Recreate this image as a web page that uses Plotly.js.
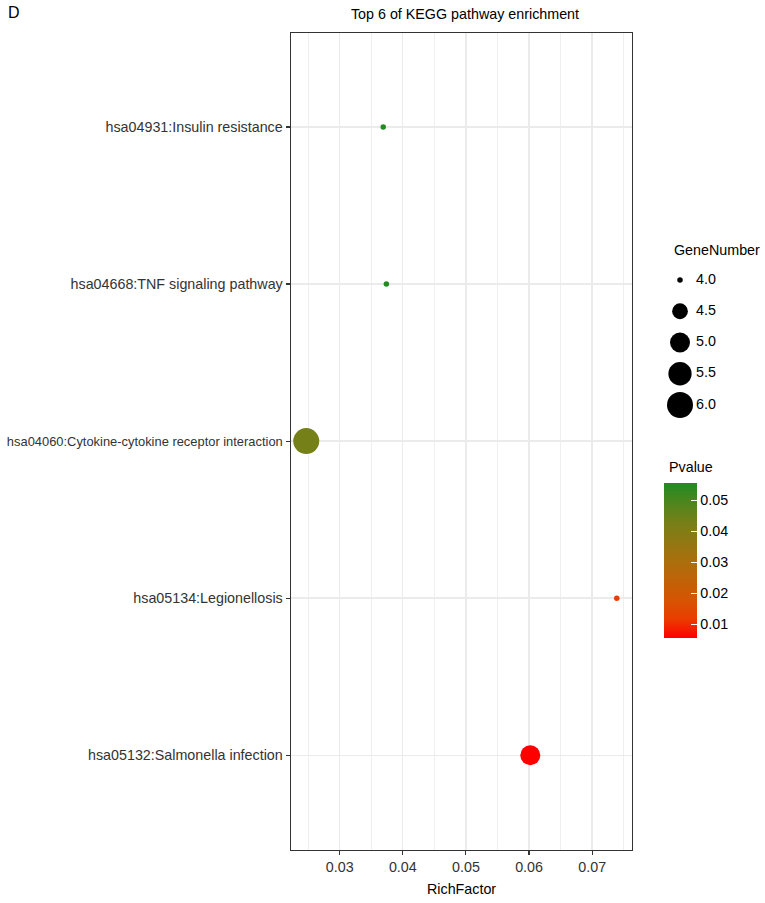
<!DOCTYPE html>
<html>
<head>
<meta charset="utf-8">
<script src="https://cdn.plot.ly/plotly-3.0.1.min.js"></script>
<style>html,body{margin:0;padding:0;background:#fff;}#chart{width:765px;height:903px;}</style>
</head>
<body>
<div id="chart"></div>
<script>
// ---- data ----
const pathways = [
  "hsa05132:Salmonella infection",
  "hsa05134:Legionellosis",
  "hsa04060:Cytokine-cytokine receptor interaction",
  "hsa04668:TNF signaling pathway",
  "hsa04931:Insulin resistance"
];
const richFactor = [0.0602, 0.0739, 0.0247, 0.0374, 0.0369];
const geneNumber = [5, 4, 6, 4, 4];
const pValue = [0.0055, 0.0118, 0.0430, 0.0550, 0.0556];
const sizeLegendValues = [4.0, 4.5, 5.0, 5.5, 6.0];
const sizeLegendLabels = ["4.0", "4.5", "5.0", "5.5", "6.0"];
const pvalueTicks = [0.01, 0.02, 0.03, 0.04, 0.05];
const xTicks = [0.03, 0.04, 0.05, 0.06, 0.07];

// ---- style helpers ----
const W = 765, H = 903;
const FONT = "Liberation Sans, Arial, Helvetica, sans-serif";
const gMin = 4, gMax = 6;
function sizePx(g){ return 5.5 + 20.5*Math.sqrt((g-gMin)/(gMax-gMin)); }
const colorscale = [
  [0, "rgb(255,0,0)"],
  [0.125, "rgb(234,62,0)"],
  [0.25, "rgb(213,85,3)"],
  [0.5, "rgb(169,112,13)"],
  [0.75, "rgb(118,128,24)"],
  [1, "rgb(34,139,34)"]
];
const pMin = Math.min(...pValue), pMax = Math.max(...pValue);
const xMin = Math.min(...richFactor), xMax = Math.max(...richFactor);
const xPad = (xMax - xMin)*0.05;

// panel pixel box
const L = 290.7, R = 632.3, T = 32.7, B = 849.5;
const AXIS_TEXT = "#333333";

const tickText = pathways.map(p => p.length > 40 ? '<span style="font-size:12.9px">' + p + '</span>' : p);

const main = {
  type: "scatter", mode: "markers",
  x: richFactor, y: pathways,
  xaxis: "x", yaxis: "y",
  marker: {
    size: geneNumber.map(sizePx),
    sizemode: "diameter",
    color: pValue, cmin: pMin, cmax: pMax,
    colorscale: colorscale,
    line: {width: 0},
    opacity: 1,
    showscale: true,
    colorbar: {
      x: 664/W, xanchor: "left", xref: "paper",
      y: (H-483)/H, yanchor: "top", yref: "paper",
      lenmode: "pixels", len: 155,
      thicknessmode: "pixels", thickness: 33,
      xpad: 0, ypad: 0,
      outlinewidth: 0,
      tickvals: pvalueTicks,
      ticktext: pvalueTicks.map(v => v.toFixed(2)),
      ticks: "inside", ticklen: 6, tickcolor: "#ffffff", tickwidth: 1,
      tickfont: {family: FONT, size: 14.3, color: "#000"}
    }
  },
  hoverinfo: "x+y",
  showlegend: false
};

const legendDots = {
  type: "scatter", mode: "markers",
  x: sizeLegendValues.map(() => 12), y: sizeLegendValues,
  xaxis: "x2", yaxis: "y2",
  marker: {size: sizeLegendValues.map(sizePx), color: "#000000", opacity: 1, line: {width: 0}},
  opacity: 1,
  hoverinfo: "skip", showlegend: false, cliponaxis: false
};
const legendText = {
  type: "scatter", mode: "text",
  x: sizeLegendValues.map(() => 28), y: sizeLegendValues,
  text: sizeLegendLabels, textposition: "middle right",
  textfont: {family: FONT, size: 14.3, color: "#000"},
  xaxis: "x2", yaxis: "y2",
  hoverinfo: "skip", showlegend: false, cliponaxis: false
};

const layout = {
  width: W, height: H,
  margin: {l: 0, r: 0, t: 0, b: 0},
  paper_bgcolor: "#fff", plot_bgcolor: "#fff",
  font: {family: FONT, size: 14.3, color: "#000"},
  title: {
    text: "Top 6 of KEGG pathway enrichment",
    x: 465/W, xanchor: "center", xref: "paper",
    y: 1 - 14/H, yanchor: "middle", yref: "container",
    font: {family: FONT, size: 14.3, color: "#000"}
  },
  xaxis: {
    domain: [L/W, R/W],
    range: [xMin - xPad, xMax + xPad],
    tickvals: xTicks, ticktext: xTicks.map(v => v.toFixed(2)),
    showgrid: true, gridcolor: "#EBEBEB", gridwidth: 1.4,
    minor: {dtick: 0.01, tick0: 0.025, showgrid: true, gridcolor: "#EDEDED", gridwidth: 0.9, ticks: ""},
    zeroline: false,
    showline: true, mirror: true, linecolor: "#333333", linewidth: 1.1,
    ticks: "outside", ticklen: 4, tickwidth: 1.1, tickcolor: "#333333",
    tickfont: {family: FONT, size: 14.3, color: AXIS_TEXT},
    automargin: false, fixedrange: true
  },
  yaxis: {
    domain: [(H-B)/H, (H-T)/H],
    type: "category",
    categoryorder: "array", categoryarray: pathways,
    tickvals: pathways, ticktext: tickText,
    range: [-0.6, pathways.length - 1 + 0.6],
    showgrid: true, gridcolor: "#EBEBEB", gridwidth: 1.4,
    zeroline: false,
    showline: true, mirror: true, linecolor: "#333333", linewidth: 1.1,
    ticks: "outside", ticklen: 4, tickwidth: 1.1, tickcolor: "#333333",
    tickfont: {family: FONT, size: 14.3, color: AXIS_TEXT},
    automargin: false, fixedrange: true
  },
  xaxis2: {
    domain: [668/W, 740/W], range: [0, 72],
    anchor: "y2", visible: false, fixedrange: true
  },
  yaxis2: {
    domain: [(H-420)/H, (H-265)/H], range: [6.24, 3.76],
    anchor: "x2", visible: false, fixedrange: true
  },
  annotations: [
    {text: "D", x: 6/W, y: 1 - 12.5/H, xref: "paper", yref: "paper",
     xanchor: "left", yanchor: "middle", showarrow: false,
     font: {family: FONT, size: 16, color: "#000"}},
    {text: "RichFactor", x: ((L+R)/2)/W, y: 1 - 889/H, xref: "paper", yref: "paper",
     xanchor: "center", yanchor: "middle", showarrow: false,
     font: {family: FONT, size: 14.3, color: "#000"}},
    {text: "GeneNumber", x: 672/W, y: 1 - 250/H, xref: "paper", yref: "paper",
     xanchor: "left", yanchor: "middle", showarrow: false,
     font: {family: FONT, size: 14.3, color: "#000"}},
    {text: "Pvalue", x: 667/W, y: 1 - 467/H, xref: "paper", yref: "paper",
     xanchor: "left", yanchor: "middle", showarrow: false,
     font: {family: FONT, size: 14.3, color: "#000"}}
  ]
};

Plotly.newPlot("chart", [main, legendDots, legendText], layout, {staticPlot: true, displayModeBar: false});
</script>
</body>
</html>
